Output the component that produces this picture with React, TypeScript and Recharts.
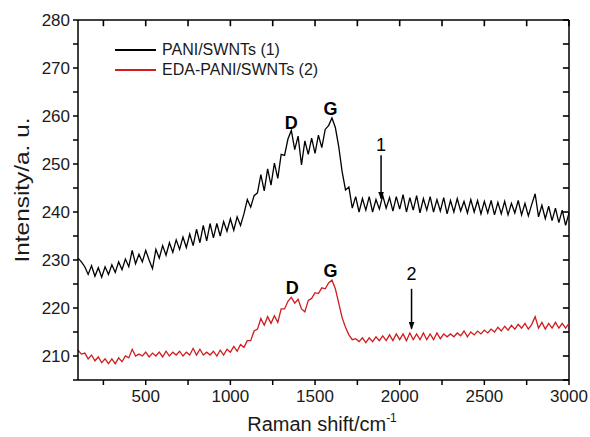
import React from 'react';
import { LineChart, Line, XAxis, YAxis, ReferenceDot, ReferenceLine } from 'recharts';

const FONT = '"Liberation Sans", Arial, Helvetica, sans-serif';
const PLOT_TOP = 20;
const PLOT_RIGHT = 569;
const X_MIN = 100;
const X_MAX = 3000;
const Y_MIN = 205;
const Y_MAX = 280;
// tick mark length, in axis units (about 6px each way)
const TICK_X = 36;
const TICK_Y = 1.3;

// Raman intensity, sampled every 20 cm-1 from 100 to 3000
const pani = [
  230.4, 229.6, 228.6, 227.0, 228.8, 226.6, 228.4, 226.4, 228.6, 227.0,
  229.0, 227.4, 229.6, 228.0, 230.2, 228.6, 232.0, 229.2, 231.2, 229.6,
  232.0, 230.0, 228.2, 232.2, 230.4, 233.0, 231.0, 233.6, 231.6, 234.2,
  232.2, 234.8, 232.6, 235.4, 233.0, 236.4, 233.6, 237.2, 234.0, 237.6,
  234.6, 237.6, 235.0, 238.0, 236.0, 238.6, 236.2, 239.0, 237.2, 239.6,
  242.6, 241.0, 243.4, 244.0, 247.8, 244.4, 249.0, 245.6, 250.2, 247.0,
  252.0, 251.8, 255.2, 257.0, 253.0, 255.8, 249.8, 254.8, 252.0, 255.4,
  252.2, 256.0, 253.4, 257.2, 258.0, 259.6, 257.6, 253.6, 248.4, 244.6,
  245.2, 240.8, 243.2, 240.0, 242.8, 240.4, 243.2, 240.0, 242.6, 240.6,
  243.4, 240.8, 243.0, 240.2, 243.2, 240.6, 243.6, 240.0, 243.0, 240.4,
  243.4, 239.8, 242.8, 240.4, 243.2, 240.0, 242.6, 240.2, 243.0, 239.6,
  242.4, 240.0, 242.8, 240.2, 242.2, 239.8, 242.6, 240.0, 242.4, 239.6,
  242.2, 239.8, 242.4, 239.4, 242.0, 239.6, 242.2, 239.4, 241.8, 239.8,
  242.4, 239.4, 241.8, 239.2, 241.6, 243.8, 239.0, 241.4, 238.6, 241.2,
  238.2, 240.8, 237.8, 240.4, 237.2, 239.8,
];

const edaPani = [
  211.2, 210.4, 210.6, 209.4, 210.2, 209.0, 209.8, 208.6, 209.4, 208.4,
  209.4, 208.4, 209.6, 208.8, 210.0, 209.6, 211.4, 210.0, 210.4, 210.0,
  210.8, 209.8, 210.6, 210.0, 210.8, 209.8, 211.0, 210.0, 210.8, 210.2,
  211.0, 210.0, 210.8, 210.2, 211.6, 210.2, 211.4, 210.2, 210.8, 210.2,
  211.0, 210.0, 211.2, 210.2, 211.4, 210.8, 212.0, 211.0, 212.4, 211.8,
  213.2, 213.2, 215.2, 215.6, 217.8, 216.4, 218.2, 216.8, 218.4, 217.0,
  219.8, 219.8, 221.4, 222.2, 221.0, 221.8, 219.8, 219.2, 221.6, 222.0,
  223.2, 223.0, 224.2, 224.0, 225.2, 225.8, 224.0, 221.0, 218.0, 216.0,
  214.4, 213.4, 213.6, 213.0, 213.8, 212.8, 213.8, 213.0, 214.0, 213.2,
  214.2, 213.2, 214.4, 213.2, 214.6, 213.4, 214.6, 213.2, 214.8, 213.4,
  214.6, 213.4, 214.8, 213.4, 214.6, 213.4, 214.8, 213.6, 214.6, 214.0,
  214.6, 214.0, 214.8, 214.2, 215.2, 214.0, 215.0, 214.4, 215.2, 214.6,
  215.4, 214.8, 215.6, 215.0, 216.0, 215.2, 216.2, 215.4, 216.4, 215.6,
  216.6, 215.8, 216.8, 215.6, 216.6, 218.2, 215.8, 217.0, 215.6, 216.8,
  215.8, 217.0, 215.8, 216.8, 215.8, 216.8,
];

const shift = pani.map((_, i) => 100 + i * 20);

const xTicks = [250, 500, 750, 1000, 1250, 1500, 1750, 2000, 2250, 2500, 2750, 3000];
const yTicks = [205, 210, 215, 220, 225, 230, 235, 240, 245, 250, 255, 260, 265, 270, 275, 280];

const peakLabels = [
  { text: 'D', shift: 1360, value: 258.6 },
  { text: 'G', shift: 1591, value: 261.6 },
  { text: 'D', shift: 1366, value: 224.2 },
  { text: 'G', shift: 1591, value: 227.8 },
];

const arrows = [
  { text: '1', shift: 1890, from: 251.8, to: 242.8, labelAt: 254.0 },
  { text: '2', shift: 2070, from: 224.0, to: 215.7, labelAt: 227.1 },
];

const legendItems = [
  { name: 'PANI/SWNTs (1)', color: '#000000' },
  { name: 'EDA-PANI/SWNTs (2)', color: '#d01c1f' },
];

const data = shift.map((x, i) => ({ shift: x, pani: pani[i], eda: edaPani[i] }));

// tick marks on the top and right sides of the frame
const tickSegments = [
  ...xTicks.map((t) => [{ x: t, y: Y_MAX - TICK_Y }, { x: t, y: Y_MAX }]),
  ...yTicks.map((t) => [{ x: X_MAX - TICK_X, y: t }, { x: X_MAX, y: t }]),
];

const tickStyle = { fontSize: 17, fill: '#1a1a1a', fontFamily: FONT };

export default function App() {
  return (
    <div style={{ position: 'absolute', left: 0, top: 0, width: 590, height: 437, background: '#fff' }}>
      <LineChart width={590} height={437} data={data} margin={{ top: PLOT_TOP, right: 590 - PLOT_RIGHT, bottom: 0, left: 0 }}>
        <defs>
          <marker id="arrowHead" markerUnits="userSpaceOnUse" markerWidth="8" markerHeight="6" refX="7" refY="3" orient="auto">
            <path d="M0,0 L8,3 L0,6 Z" fill="#000" />
          </marker>
        </defs>
        <XAxis
          dataKey="shift"
          type="number"
          domain={[X_MIN, X_MAX]}
          ticks={xTicks}
          interval={0}
          tickFormatter={(v: number) => (v % 500 === 0 ? String(v) : '')}
          tick={tickStyle}
          tickLine={{ stroke: '#000', strokeWidth: 1.5 }}
          tickSize={5}
          tickMargin={5}
          height={57}
          stroke="#000"
          strokeWidth={1.5}
          label={{
            content: () => (
              <text x={322} y={431} textAnchor="middle" fontSize={20} fontFamily={FONT} fill="#1a1a1a">
                Raman shift/cm
                <tspan dy={-9} fontSize={12}>-1</tspan>
              </text>
            ),
          }}
        />
        <YAxis
          type="number"
          domain={[Y_MIN, Y_MAX]}
          ticks={yTicks}
          interval={0}
          tickFormatter={(v: number) => (v % 10 === 0 ? String(v) : '')}
          tick={tickStyle}
          tickLine={{ stroke: '#000', strokeWidth: 1.5 }}
          tickSize={5}
          tickMargin={3}
          width={78}
          stroke="#000"
          strokeWidth={1.5}
          label={{
            content: () => (
              <text
                x={22}
                y={190}
                transform="rotate(-90 22 190)"
                textAnchor="middle"
                dominantBaseline="central"
                fontSize={20}
                fontFamily={FONT}
                fill="#1a1a1a"
                textLength={145}
                lengthAdjust="spacingAndGlyphs"
              >
                Intensity/a. u.
              </text>
            ),
          }}
        />
        <ReferenceLine y={Y_MAX} stroke="#000" strokeWidth={1.5} />
        <ReferenceLine x={X_MAX} stroke="#000" strokeWidth={1.5} />
        <Line type="linear" dataKey="pani" stroke="#000000" strokeWidth={1.3} dot={false} isAnimationActive={false} />
        <Line type="linear" dataKey="eda" stroke="#d01c1f" strokeWidth={1.3} dot={false} isAnimationActive={false} />
        {tickSegments.map((seg, i) => (
          <ReferenceLine key={'tk' + i} segment={seg} stroke="#000" strokeWidth={1.6} />
        ))}
        {peakLabels.map((p, i) => (
          <ReferenceDot
            key={'pk' + i}
            x={p.shift}
            y={p.value}
            r={1}
            fill="none"
            stroke="none"
            label={{ value: p.text, position: 'center', fontSize: 18, fontWeight: 'bold', fill: '#000', fontFamily: FONT }}
          />
        ))}
        {arrows.map((a, i) => (
          <ReferenceLine
            key={'ar' + i}
            segment={[{ x: a.shift, y: a.from }, { x: a.shift, y: a.to }]}
            stroke="#000"
            strokeWidth={1.5}
            markerEnd="url(#arrowHead)"
          />
        ))}
        {arrows.map((a, i) => (
          <ReferenceDot
            key={'al' + i}
            x={a.shift}
            y={a.labelAt}
            r={1}
            fill="none"
            stroke="none"
            label={{ value: a.text, position: 'center', fontSize: 18, fill: '#000', fontFamily: FONT }}
          />
        ))}
      </LineChart>
      <div style={{ position: 'absolute', left: 115, top: 40, fontFamily: FONT, fontSize: 16, color: '#1a1a1a' }}>
        {legendItems.map((item) => (
          <div key={item.name} style={{ display: 'flex', alignItems: 'center', height: 20 }}>
            <div style={{ width: 41, height: 1.5, background: item.color, marginRight: 6 }} />
            <span>{item.name}</span>
          </div>
        ))}
      </div>
    </div>
  );
}
